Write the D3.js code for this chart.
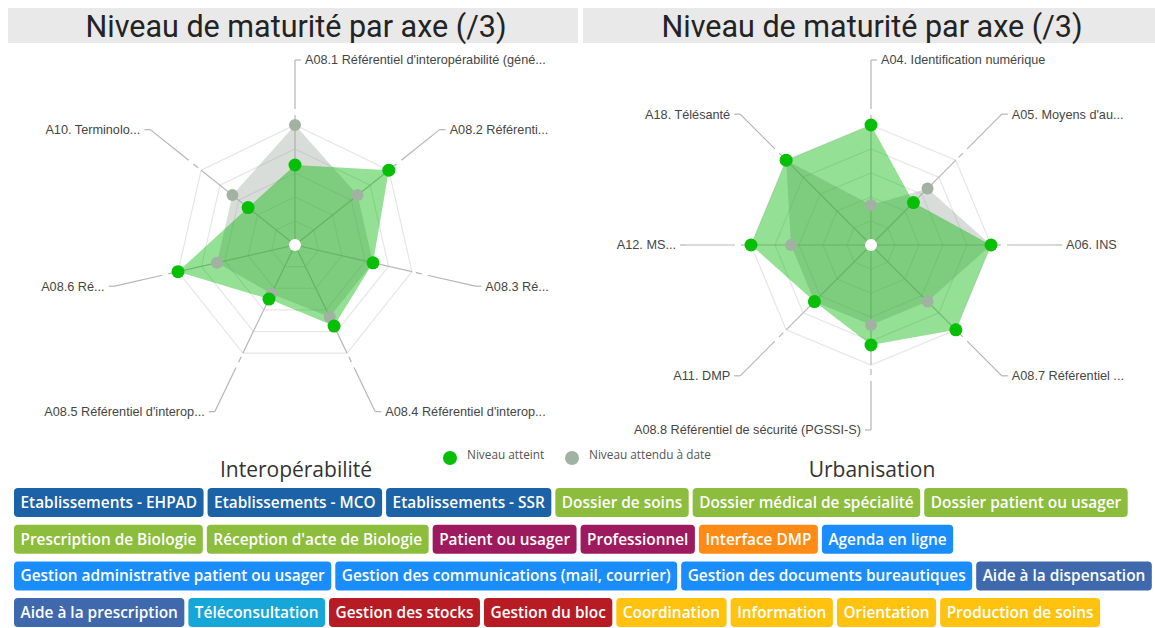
<!DOCTYPE html>
<meta charset="utf-8">
<title>Niveau de maturité par axe</title>
<style>
  body { margin: 0; background: #fff; }
  svg { display: block; }
</style>
<script src="https://d3js.org/d3.v7.min.js"></script>
<svg id="viz" width="1155" height="628"></svg>
<script>
// Data
const leftAxes = ["A08.1 Référentiel d'interopérabilité (géné...", "A08.2 Référenti...", "A08.3 Ré...",
  "A08.4 Référentiel d'interop...", "A08.5 Référentiel d'interop...", "A08.6 Ré...", "A10. Terminolo..."];
const leftAtteint = [2, 3, 2, 2.25, 1.5, 3, 1.5];
const leftAttendu = [3, 2, 2, 2, 1.35, 2, 2];

const rightAxes = ["A04. Identification numérique", "A05. Moyens d'au...", "A06. INS", "A08.7 Référentiel ...",
  "A08.8 Référentiel de sécurité (PGSSI-S)", "A11. DMP", "A12. MS...", "A18. Télésanté"];
const rightAtteint = [3, 1.5, 3, 3, 2.5, 2, 3, 3];
const rightAttendu = [1, 2, 3, 2, 2, 2, 2, 3];

const seriesNames = ["Niveau atteint", "Niveau attendu à date"];
const sectionNames = ["Interopérabilité", "Urbanisation"];
const chartTitle = "Niveau de maturité par axe (/3)";

const tagRows = [
  [["Etablissements - EHPAD", "etab"], ["Etablissements - MCO", "etab"], ["Etablissements - SSR", "etab"],
   ["Dossier de soins", "dossier"], ["Dossier médical de spécialité", "dossier"], ["Dossier patient ou usager", "dossier"]],
  [["Prescription de Biologie", "dossier"], ["Réception d'acte de Biologie", "dossier"], ["Patient ou usager", "acteur"],
   ["Professionnel", "acteur"], ["Interface DMP", "dmp"], ["Agenda en ligne", "gestion"]],
  [["Gestion administrative patient ou usager", "gestion"], ["Gestion des communications (mail, courrier)", "gestion"],
   ["Gestion des documents bureautiques", "gestion"], ["Aide à la dispensation", "aide"]],
  [["Aide à la prescription", "aide"], ["Téléconsultation", "tele"], ["Gestion des stocks", "stock"],
   ["Gestion du bloc", "stock"], ["Coordination", "parcours"], ["Information", "parcours"],
   ["Orientation", "parcours"], ["Production de soins", "parcours"]]
];

// Styles
const tagColor = {
  etab: "#1c62a6", dossier: "#8cbd3c", acteur: "#9e1a5e", dmp: "#ff8b17",
  gestion: "#1a8dfb", aide: "#4069ad", tele: "#17a6d8", stock: "#b71c24", parcours: "#ffc20f"
};
const greenPoint = "#07bf07", grayPoint = "#a2b2a2";

const svg = d3.select("#viz");
const width = +svg.attr("width");

const R = 120, maxVal = 3, levels = 5, labelR = 185;
const r = d3.scaleLinear().domain([0, maxVal]).range([0, R]);

function radar(cx, cy, axes, atteint, attendu) {
  const g = svg.append("g").attr("transform", `translate(${cx},${cy})`);
  const n = axes.length;
  const angle = d3.scaleLinear().domain([0, n]).range([-Math.PI / 2, 1.5 * Math.PI]);
  const pt = (i, v) => [r(v) * Math.cos(angle(i)), r(v) * Math.sin(angle(i))];
  const idx = d3.range(n);

  // grid rings
  d3.range(1, levels + 1).forEach(l => {
    g.append("polygon")
      .attr("points", idx.map(i => pt(i, maxVal * l / levels).join(",")).join(" "))
      .attr("fill", "none").attr("stroke", "#e6e6e6").attr("stroke-width", 1.2);
  });

  // axes + leaders
  idx.forEach(i => {
    const a = angle(i), c = Math.cos(a), s = Math.sin(a);
    g.append("line").attr("x1", 0).attr("y1", 0).attr("x2", R * c).attr("y2", R * s)
      .attr("stroke", "#b8b8b8").attr("stroke-width", 1.2);
    g.append("line").attr("x1", (R + 4) * c).attr("y1", (R + 4) * s).attr("x2", (R + 10) * c).attr("y2", (R + 10) * s)
      .attr("stroke", "#b5b5b5").attr("stroke-width", 1.2);
    const px = labelR * c, py = labelR * s;
    g.append("line").attr("x1", (R + 16) * c).attr("y1", (R + 16) * s).attr("x2", px).attr("y2", py)
      .attr("stroke", "#b5b5b5").attr("stroke-width", 1.2);
    const right = Math.abs(c) < 0.01 ? s < 0 : c > 0;
    const dir = right ? 1 : -1;
    g.append("line").attr("x1", px).attr("y1", py).attr("x2", px + 6 * dir).attr("y2", py)
      .attr("stroke", "#b5b5b5").attr("stroke-width", 1.2);
    g.append("text").attr("x", px + 10 * dir).attr("y", py)
      .attr("dy", "0.35em")
      .attr("text-anchor", right ? "start" : "end")
      .style("font-family", "'Liberation Sans', Arial, sans-serif")
      .style("font-size", "12.7px").style("fill", "#454545")
      .text(axes[i]);
  });

  const line = d3.line().curve(d3.curveLinearClosed);
  g.append("path").attr("d", line(attendu.map((v, i) => pt(i, v))))
    .attr("fill", "#a0aaa0").attr("fill-opacity", 0.4);
  g.append("path").attr("d", line(atteint.map((v, i) => pt(i, v))))
    .attr("fill", "#00b400").attr("fill-opacity", 0.42);

  g.selectAll("circle.attendu").data(attendu).join("circle").attr("class", "attendu")
    .attr("cx", (v, i) => pt(i, v)[0]).attr("cy", (v, i) => pt(i, v)[1])
    .attr("r", 6).attr("fill", grayPoint);
  g.selectAll("circle.atteint").data(atteint).join("circle").attr("class", "atteint")
    .attr("cx", (v, i) => pt(i, v)[0]).attr("cy", (v, i) => pt(i, v)[1])
    .attr("r", 6.5).attr("fill", greenPoint);
  g.append("circle").attr("r", 6).attr("fill", "#fff");
}

// title bands
[[8, 578, 296], [583, width, 872]].forEach(([x0, x1, tx]) => {
  svg.append("rect").attr("x", x0).attr("y", 8).attr("width", x1 - x0).attr("height", 35).attr("fill", "#e9e9e9");
  svg.append("text").attr("x", tx).attr("y", 37).attr("text-anchor", "middle")
    .style("font-family", "Roboto, sans-serif").style("font-size", "30.5px").style("fill", "#232323")
    .text(chartTitle);
});

radar(295, 245, leftAxes, leftAtteint, leftAttendu);
radar(871, 245, rightAxes, rightAtteint, rightAttendu);

// legend
const legend = svg.append("g").attr("transform", "translate(450,458)");
[[0, greenPoint], [122, grayPoint]].forEach(([x, col], i) => {
  legend.append("circle").attr("cx", x).attr("cy", 0).attr("r", 7).attr("fill", col);
  legend.append("text").attr("x", x + 17).attr("y", 0).attr("dy", "0.1em")
    .style("font-family", "'Open Sans', sans-serif").style("font-size", "11.8px").style("fill", "#555")
    .text(seriesNames[i]);
});

// section names
[[296, sectionNames[0]], [872, sectionNames[1]]].forEach(([x, t]) => {
  svg.append("text").attr("x", x).attr("y", 477).attr("text-anchor", "middle")
    .style("font-family", "'Open Sans', sans-serif").style("font-size", "21px").style("fill", "#333")
    .text(t);
});

// tags
const tagH = 29, rowStep = 36.7, pad = 6.5, gap = 4;
tagRows.forEach((row, ri) => {
  let x = 14;
  const y = 488 + ri * rowStep;
  row.forEach(([label, grp]) => {
    const tg = svg.append("g");
    const rect = tg.append("rect").attr("y", y).attr("height", tagH).attr("rx", 4).attr("fill", tagColor[grp]);
    const txt = tg.append("text").attr("y", y + tagH / 2).attr("dy", "0.36em")
      .style("font-family", "'Open Sans', sans-serif").style("font-weight", 600)
      .style("font-size", "15.4px").style("fill", "#fff").text(label);
    const w = txt.node().getComputedTextLength() + 2 * pad;
    rect.attr("x", x).attr("width", w);
    txt.attr("x", x + pad);
    x += w + gap;
  });
});
</script>
